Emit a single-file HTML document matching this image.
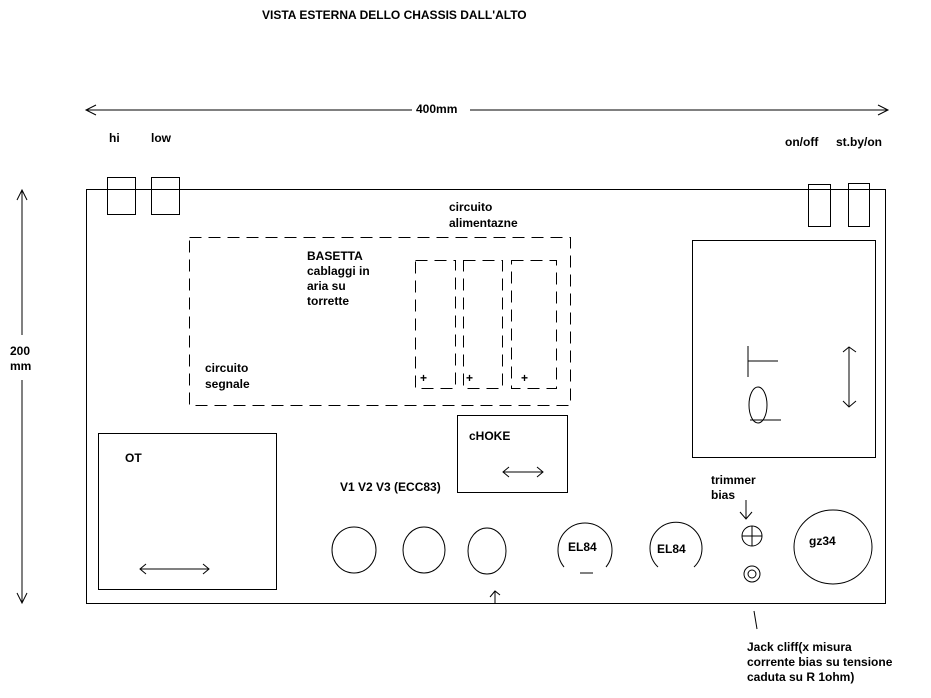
<!DOCTYPE html>
<html><head><meta charset="utf-8"><style>
body{margin:0;background:#fff}
svg text{font-family:"Liberation Sans",sans-serif;font-weight:bold;font-size:12px;fill:#000}
</style></head><body>
<svg width="931" height="693" viewBox="0 0 931 693" xmlns="http://www.w3.org/2000/svg" fill="none" stroke="#000" stroke-width="1">
<text x="262" y="19" stroke="none">VISTA ESTERNA DELLO CHASSIS DALL'ALTO</text>
<!-- top dimension -->
<line x1="86" y1="110" x2="412" y2="110"/><line x1="470" y1="110" x2="888" y2="110"/>
<polyline points="96,105 86,110 96,115"/><polyline points="878,105 888,110 878,115"/>
<text x="416" y="113" stroke="none">400mm</text>
<!-- vertical -->
<line x1="22" y1="190" x2="22" y2="335"/><line x1="22" y1="380" x2="22" y2="603"/>
<polyline points="17,200 22,190 27,200"/><polyline points="17,593 22,603 27,593"/>
<text x="10" y="355" stroke="none">200</text><text x="10" y="370" stroke="none">mm</text>
<text x="109" y="142" stroke="none">hi</text><text x="151" y="142" stroke="none">low</text>
<text x="785" y="146" stroke="none">on/off</text><text x="836" y="146" stroke="none">st.by/on</text>
<rect x="86.5" y="189.5" width="799" height="414"/>
<rect x="107.5" y="177.5" width="28" height="37"/><rect x="151.5" y="177.5" width="28" height="37"/>
<rect x="808.5" y="184.5" width="22" height="42"/><rect x="848.5" y="183.5" width="21" height="43"/>
<g stroke-dasharray="12,7">
<rect x="189.5" y="237.5" width="381" height="168"/>
<rect x="415.5" y="260.5" width="40" height="128"/>
<rect x="463.5" y="260.5" width="39" height="128"/>
<rect x="511.5" y="260.5" width="45" height="128"/>
</g>
<text x="420" y="382" stroke="none" font-weight="normal">+</text>
<text x="466" y="382" stroke="none" font-weight="normal">+</text>
<text x="521" y="382" stroke="none" font-weight="normal">+</text>
<text x="449" y="211" stroke="none">circuito</text><text x="449" y="227" stroke="none">alimentazne</text>
<text x="307" y="260" stroke="none">BASETTA</text><text x="307" y="275" stroke="none">cablaggi in</text>
<text x="307" y="290" stroke="none">aria su</text><text x="307" y="305" stroke="none">torrette</text>
<text x="205" y="372" stroke="none">circuito</text><text x="205" y="388" stroke="none">segnale</text>
<rect x="692.5" y="240.5" width="183" height="217"/>
<line x1="748" y1="346" x2="748" y2="377"/><line x1="748" y1="361" x2="778" y2="361"/>
<ellipse cx="758" cy="405" rx="9" ry="18"/><line x1="750" y1="420" x2="781" y2="420"/>
<line x1="849" y1="347" x2="849" y2="407"/>
<polyline points="843,352 849,347 856,352"/><polyline points="843,401 849,407 856,401"/>
<rect x="98.5" y="433.5" width="178" height="156"/>
<text x="125" y="462" stroke="none">OT</text>
<line x1="140" y1="569" x2="209" y2="569"/><polyline points="146,564 140,569 146,574"/><polyline points="203,564 209,569 203,574"/>
<rect x="457.5" y="415.5" width="110" height="77"/>
<text x="469" y="440" stroke="none">cHOKE</text>
<line x1="503" y1="472" x2="543" y2="472"/><polyline points="509,467 503,472 509,477"/><polyline points="537,467 543,472 537,477"/>
<text x="340" y="491" stroke="none">V1 V2 V3 (ECC83)</text>
<ellipse cx="354" cy="550" rx="22" ry="23"/><ellipse cx="424" cy="550" rx="21" ry="23"/><ellipse cx="487" cy="551" rx="19" ry="23"/>
<line x1="495" y1="591" x2="495" y2="603"/><polyline points="490,597 495,591 500,595"/>
<path d="M564,567 A27,27 0 1 1 606,567"/><text x="568" y="551" stroke="none">EL84</text><line x1="580" y1="573" x2="593" y2="573"/>
<path d="M658,567 A26,26 0 1 1 694,567"/><text x="657" y="553" stroke="none">EL84</text>
<text x="711" y="484" stroke="none">trimmer</text><text x="711" y="499" stroke="none">bias</text>
<line x1="746" y1="500" x2="746" y2="519"/><polyline points="740,512 746,519 752,512"/>
<circle cx="752" cy="536" r="10"/><line x1="742" y1="536" x2="762" y2="536"/><line x1="752" y1="526" x2="752" y2="546"/>
<circle cx="752" cy="574" r="8"/><circle cx="752" cy="574" r="4"/>
<line x1="754" y1="611" x2="757" y2="629"/>
<ellipse cx="833" cy="547" rx="39" ry="37"/><text x="809" y="545" stroke="none">gz34</text>
<text x="747" y="651" stroke="none">Jack cliff(x misura</text>
<text x="747" y="666" stroke="none">corrente bias su tensione</text>
<text x="747" y="681" stroke="none">caduta su R 1ohm)</text>
</svg>
</body></html>
